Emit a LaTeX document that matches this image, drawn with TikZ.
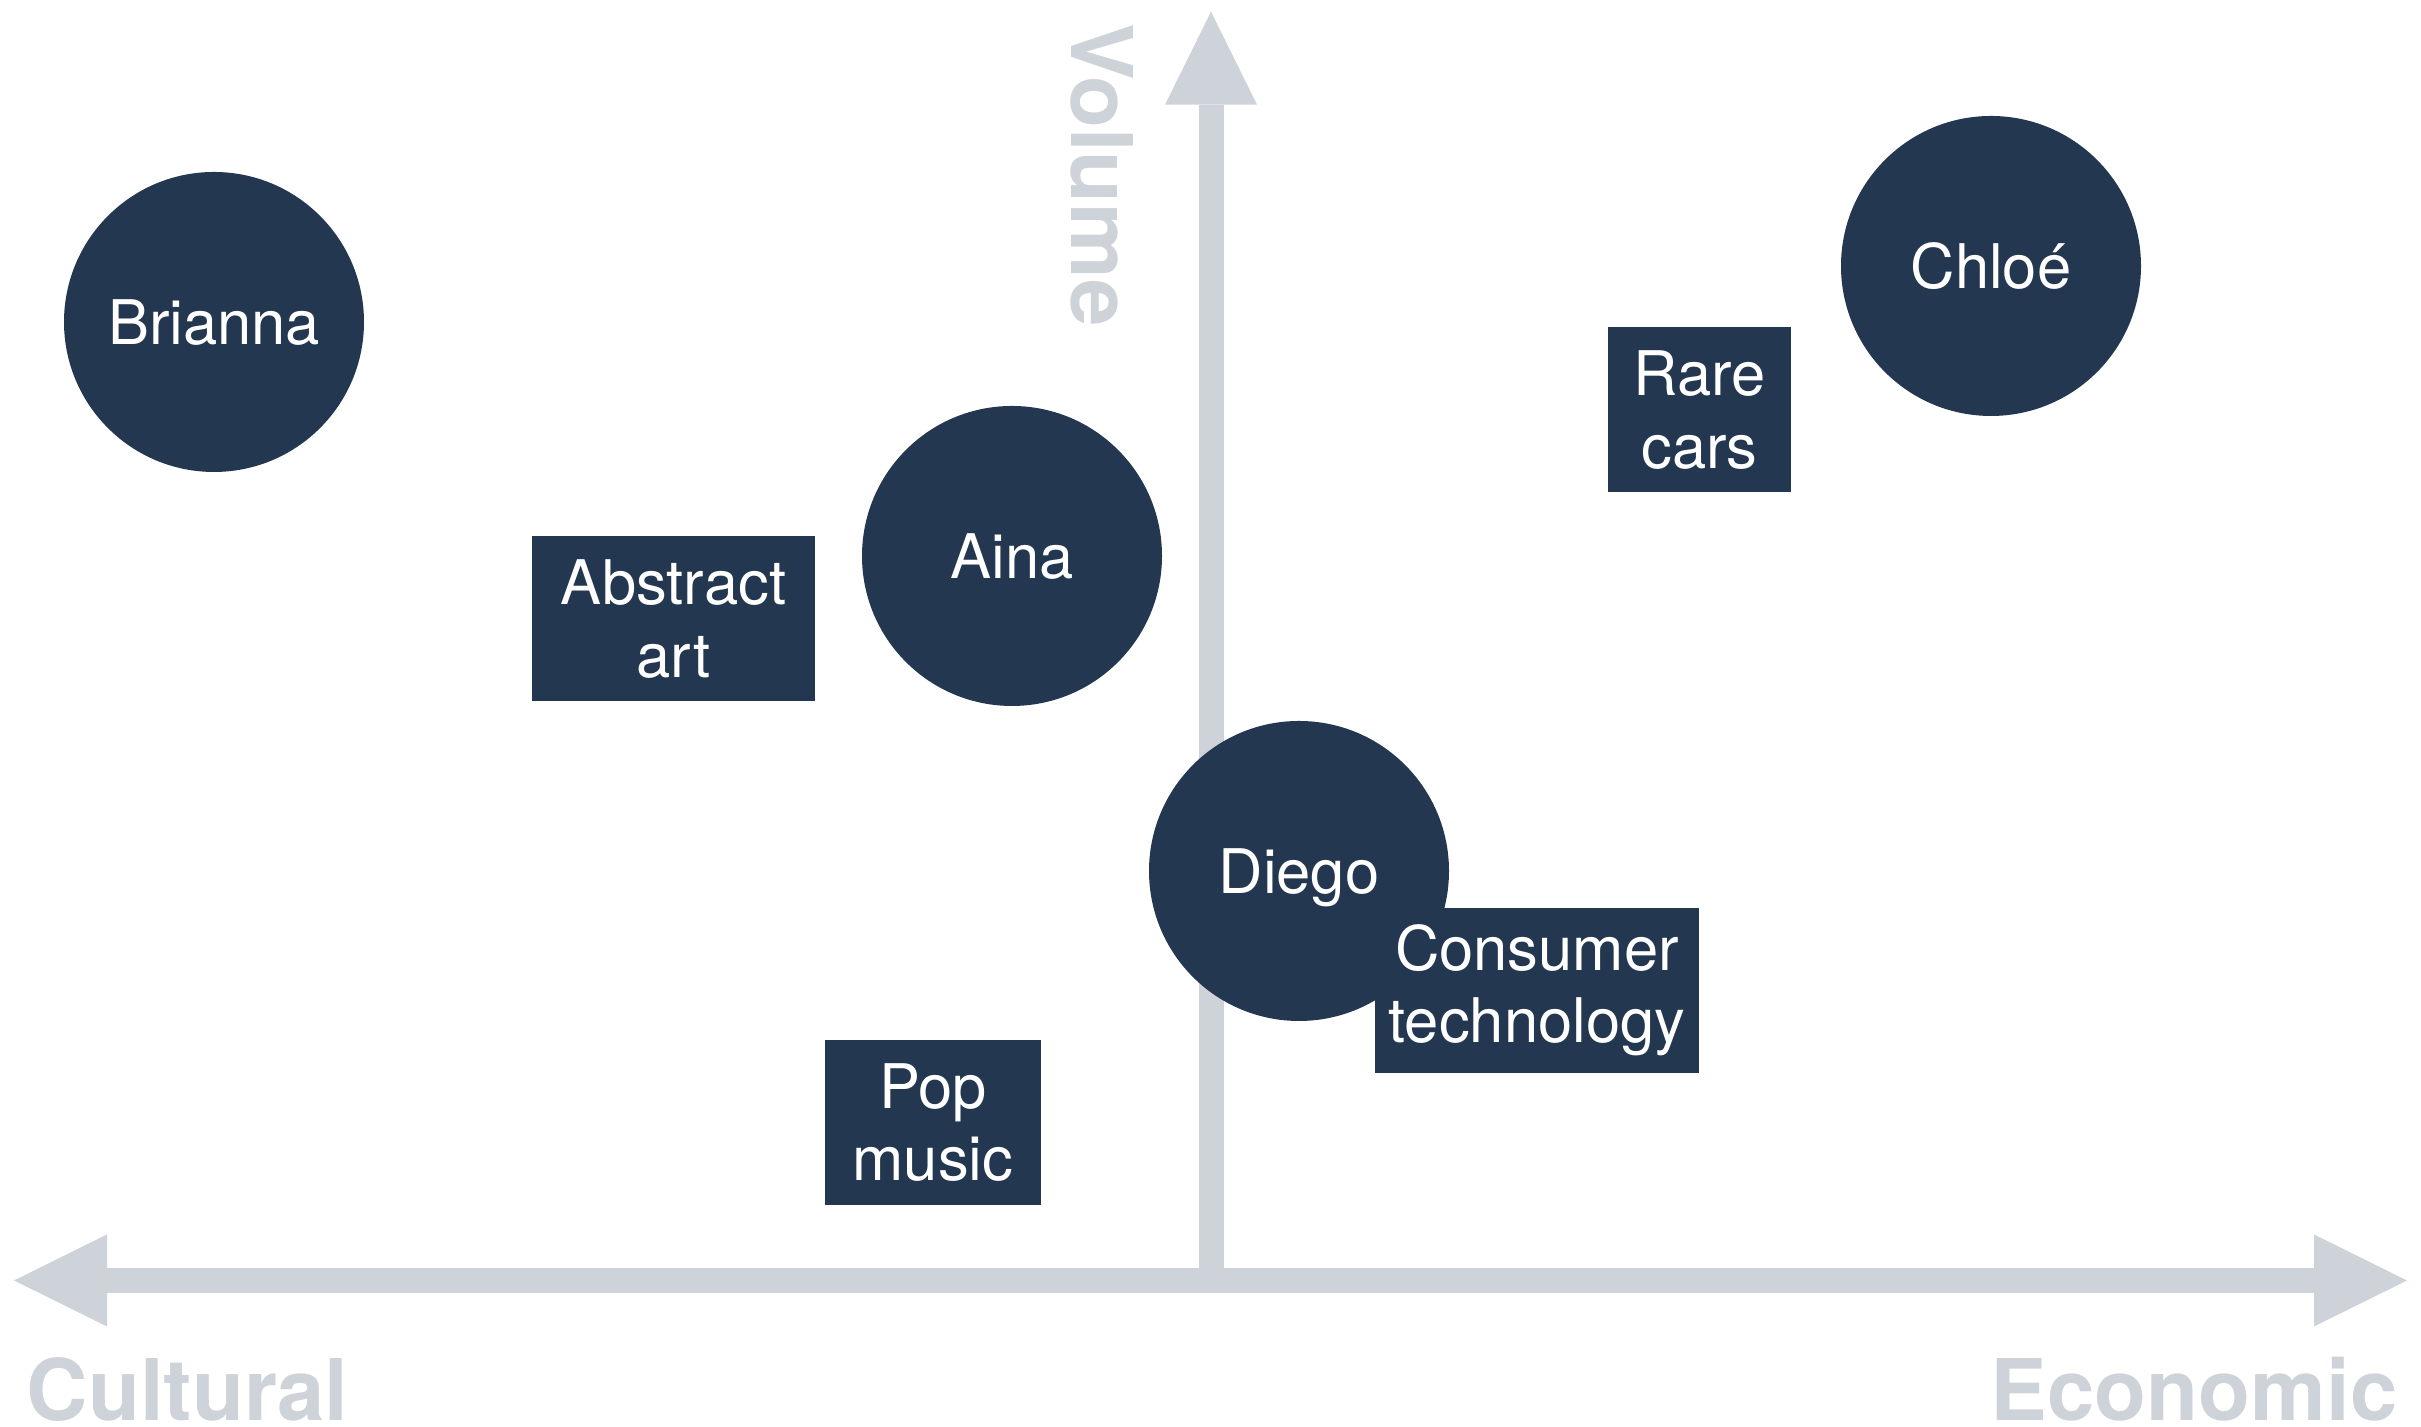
\documentclass[tikz,border=0pt]{standalone}
\usepackage{fontspec}
\setmainfont{TeX Gyre Heros}
\usetikzlibrary{arrows.meta}
\definecolor{navy}{RGB}{36,55,80}
\definecolor{axisgray}{RGB}{205,211,216}

\begin{document}
\begin{tikzpicture}[
  person/.style={circle, fill=navy, text=white, minimum size=3cm, inner sep=0pt,
    text depth=0pt, font=\fontsize{17.5}{20.6}\selectfont},
  topic/.style={rectangle, fill=navy, text=white, minimum height=1.65cm, inner sep=0pt,
    align=center, font=\fontsize{17.5}{20.6}\selectfont},
  axis/.style={draw=axisgray, line width=2.5mm, >={Triangle[length=9.3mm, width=9.2mm, line width=0pt]}},
  axislabel/.style={text=axisgray, inner sep=0pt, font=\fontsize{24.2}{29}\selectfont\bfseries}
]
\useasboundingbox (0,0) rectangle (24.21,14.27);

% ---------------- Axes ----------------
\coordinate (west)   at (0.14,1.465);
\coordinate (east)   at (24.07,1.465);
\coordinate (origin) at (12.11,1.465);
\coordinate (north)  at (12.11,14.153);
\draw[axis, <->] (west) -- (east);
\draw[axis, ->] (origin) -- (north);

\node[axislabel, anchor=base west] (cultural) at (0.26,0.06) {Cultural};
\node[axislabel, anchor=base east] (economic) at (23.98,0.06) {Economic};
\node[axislabel, anchor=base west, rotate=-90] (volume) at (10.71,14.04) {Volume};

% ---------------- People ----------------
\node[person] (brianna) at (2.14,11.05) {Brianna};
\node[person] (aina)    at (10.12,8.71) {Aina};
\node[person] (diego)   at (12.99,5.56) {Diego};
\node[person] (chloe)   at (19.91,11.61) {Chloé};

% ---------------- Topics ----------------
\node[topic, minimum width=2.83cm] (abstract) at (6.735,8.08) {Abstract\\art};
\node[topic, minimum width=1.83cm] (cars)     at (16.995,10.17) {Rare\\cars};
\node[topic, minimum width=3.24cm] (tech)     at (15.37,4.365) {Consumer\\technology};
\node[topic, minimum width=2.16cm] (pop)      at (9.33,3.045) {Pop\\music};

\end{tikzpicture}
\end{document}
